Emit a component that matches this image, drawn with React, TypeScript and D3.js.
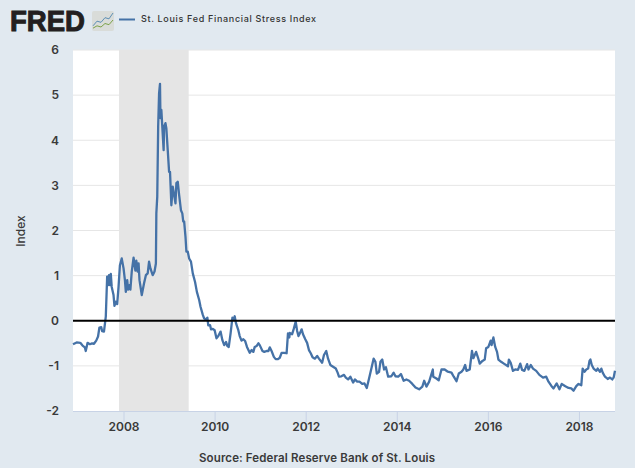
import React from "react";
import * as d3 from "d3";

const years = [2006.88,2006.96,2007.04,2007.09,2007.14,2007.16,2007.20,2007.25,2007.30,2007.34,2007.39,2007.43,2007.46,2007.50,2007.52,2007.56,2007.60,2007.63,2007.65,2007.67,2007.69,2007.71,2007.73,2007.77,2007.79,2007.82,2007.85,2007.88,2007.91,2007.95,2007.99,2008.02,2008.04,2008.07,2008.09,2008.12,2008.14,2008.17,2008.21,2008.25,2008.27,2008.30,2008.32,2008.34,2008.39,2008.44,2008.48,2008.52,2008.55,2008.58,2008.63,2008.67,2008.70,2008.71,2008.73,2008.75,2008.77,2008.79,2008.80,2008.82,2008.83,2008.87,2008.88,2008.91,2008.93,2008.96,2008.99,2009.01,2009.04,2009.07,2009.10,2009.13,2009.15,2009.18,2009.21,2009.25,2009.28,2009.30,2009.32,2009.35,2009.37,2009.40,2009.43,2009.47,2009.51,2009.56,2009.60,2009.65,2009.68,2009.73,2009.76,2009.80,2009.83,2009.85,2009.89,2009.91,2009.95,2009.99,2010.03,2010.07,2010.12,2010.16,2010.20,2010.24,2010.27,2010.30,2010.34,2010.38,2010.41,2010.43,2010.46,2010.51,2010.54,2010.58,2010.62,2010.66,2010.70,2010.76,2010.80,2010.84,2010.87,2010.91,2010.95,2010.98,2011.04,2011.08,2011.13,2011.17,2011.20,2011.24,2011.29,2011.33,2011.38,2011.42,2011.46,2011.51,2011.57,2011.60,2011.63,2011.64,2011.69,2011.73,2011.77,2011.80,2011.83,2011.86,2011.90,2011.93,2011.98,2012.02,2012.06,2012.10,2012.14,2012.19,2012.24,2012.28,2012.35,2012.39,2012.44,2012.48,2012.53,2012.59,2012.65,2012.69,2012.72,2012.77,2012.83,2012.87,2012.92,2012.97,2013.03,2013.07,2013.12,2013.17,2013.23,2013.28,2013.33,2013.38,2013.44,2013.48,2013.52,2013.55,2013.60,2013.63,2013.67,2013.71,2013.75,2013.80,2013.87,2013.92,2013.96,2014.02,2014.08,2014.14,2014.20,2014.26,2014.33,2014.40,2014.48,2014.55,2014.59,2014.64,2014.70,2014.78,2014.79,2014.86,2014.91,2014.97,2015.04,2015.11,2015.19,2015.24,2015.30,2015.35,2015.41,2015.45,2015.49,2015.52,2015.59,2015.64,2015.67,2015.73,2015.77,2015.81,2015.87,2015.92,2015.95,2016.00,2016.05,2016.07,2016.11,2016.15,2016.19,2016.22,2016.28,2016.34,2016.43,2016.45,2016.49,2016.54,2016.59,2016.65,2016.70,2016.74,2016.79,2016.85,2016.88,2016.93,2016.98,2017.05,2017.12,2017.20,2017.27,2017.32,2017.38,2017.43,2017.50,2017.56,2017.61,2017.69,2017.76,2017.82,2017.87,2017.93,2017.98,2018.04,2018.07,2018.11,2018.15,2018.19,2018.22,2018.24,2018.27,2018.31,2018.37,2018.40,2018.45,2018.48,2018.51,2018.56,2018.62,2018.67,2018.72,2018.75,2018.78];

const stress = [-0.52,-0.48,-0.49,-0.55,-0.59,-0.67,-0.49,-0.52,-0.50,-0.51,-0.44,-0.35,-0.15,-0.14,-0.23,-0.24,0.09,0.98,0.79,1.01,0.79,1.04,0.75,0.57,0.33,0.42,0.37,0.75,1.23,1.38,1.16,0.90,0.64,0.90,0.69,0.79,0.69,1.09,1.40,1.11,1.33,1.09,1.27,0.90,0.57,0.83,1.01,1.05,1.31,1.16,1.01,1.09,1.27,2.38,2.75,4.30,5.04,5.25,4.49,4.67,4.49,3.78,4.30,4.38,4.26,3.78,3.30,3.30,2.56,2.97,2.79,2.60,3.05,3.08,2.79,2.45,2.38,2.20,2.20,1.86,1.53,1.53,1.38,1.31,1.05,0.86,0.64,0.46,0.31,0.13,0.05,0.03,0.07,-0.10,-0.10,-0.19,-0.18,-0.21,-0.39,-0.34,-0.24,-0.43,-0.54,-0.47,-0.56,-0.58,-0.28,0.07,0.03,0.10,-0.06,-0.21,-0.34,-0.44,-0.41,-0.45,-0.58,-0.71,-0.65,-0.69,-0.58,-0.56,-0.50,-0.54,-0.67,-0.69,-0.67,-0.67,-0.59,-0.67,-0.80,-0.85,-0.85,-0.82,-0.71,-0.71,-0.72,-0.28,-0.37,-0.27,-0.30,-0.17,-0.02,-0.22,-0.34,-0.28,-0.19,-0.30,-0.41,-0.49,-0.65,-0.72,-0.81,-0.84,-0.78,-0.84,-0.93,-0.76,-0.67,-0.84,-0.98,-1.02,-1.06,-1.15,-1.24,-1.23,-1.20,-1.26,-1.30,-1.24,-1.37,-1.30,-1.35,-1.35,-1.40,-1.39,-1.49,-1.28,-1.02,-0.84,-0.91,-1.17,-1.13,-0.91,-0.86,-1.08,-1.03,-1.24,-1.23,-1.15,-1.23,-1.24,-1.18,-1.33,-1.30,-1.33,-1.40,-1.48,-1.52,-1.46,-1.33,-1.46,-1.35,-1.08,-1.24,-1.28,-1.32,-1.08,-1.08,-1.13,-1.15,-1.24,-1.34,-1.17,-1.13,-1.08,-0.98,-1.11,-1.08,-0.67,-0.83,-0.69,-0.81,-0.95,-0.89,-0.86,-0.61,-0.58,-0.44,-0.54,-0.37,-0.58,-0.69,-0.86,-0.91,-0.95,-1.01,-0.86,-0.93,-1.11,-1.08,-1.09,-0.95,-1.09,-1.11,-0.96,-1.08,-0.98,-1.06,-1.11,-1.20,-1.26,-1.24,-1.35,-1.44,-1.50,-1.39,-1.52,-1.40,-1.45,-1.49,-1.50,-1.55,-1.45,-1.40,-1.43,-1.06,-1.13,-1.08,-1.06,-0.89,-0.86,-0.98,-1.06,-1.11,-1.06,-1.13,-1.06,-1.15,-1.24,-1.29,-1.26,-1.30,-1.26,-1.11];

const yTicks = [-2,-1,0,1,2,3,4,5,6];
const xTicks = [2008,2010,2012,2014,2016,2018];
const recession = [2007.89,2009.42];
const xDomain = [2006.88,2018.78];
const yDomain = [-2,6];
const seriesName = "St. Louis Fed Financial Stress Index";
const sourceText = "Source: Federal Reserve Bank of St. Louis";
const logoBlue = [1,5,4,8,7,12];
const logoGreen = [-1,1,0,3,2,6];

const font = "Inter, 'Open Sans', 'Liberation Sans', sans-serif";

export default function App() {
  const x = d3.scaleLinear().domain(xDomain).range([73, 615]);
  const y = d3.scaleLinear().domain(yDomain).range([411, 50]);
  const line = d3.line<number>().x((_, i) => x(years[i])).y((d) => y(d));
  const lx = d3.scaleLinear().domain([0, 5]).range([93, 113]);
  const ly = d3.scaleLinear().domain([0, 12]).range([27, 13]);
  const mini = d3.line<number>().x((_, i) => lx(i)).y((d) => ly(d));
  return (
    <svg width={635} height={468} style={{ position: "absolute", left: 0, top: 0, display: "block" }} fontFamily={font}>
      <rect width={635} height={468} fill="#e1e9f0" />
      <rect x={73} y={50} width={542} height={361} fill="#ffffff" />
      {yTicks.filter((t) => t !== 0 && t !== -2).map((t) => (
        <line key={t} x1={73} x2={615} y1={y(t)} y2={y(t)} stroke="#e6e6e6" strokeWidth={1} />
      ))}
      <rect x={x(recession[0])} y={50} width={x(recession[1]) - x(recession[0])} height={361} fill="#e5e5e5" />
      <line x1={73} x2={615} y1={411.5} y2={411.5} stroke="#c8d3e6" strokeWidth={1} />
      {xTicks.map((t) => (
        <g key={t}>
          <line x1={x(t)} x2={x(t)} y1={411} y2={422} stroke="#c8d3e6" strokeWidth={1} />
          <text x={x(t)} y={431} textAnchor="middle" fontSize={12} fontWeight={600} fill="#3a3a3a">{t}</text>
        </g>
      ))}
      {yTicks.map((t) => (
        <text key={t} x={59} y={y(t)} dy="0.36em" textAnchor="end" fontSize={12} fontWeight={600} fill="#3a3a3a">{t}</text>
      ))}
      <path d={line(stress) ?? ""} fill="none" stroke="#4572a7" strokeWidth={2.3} strokeLinejoin="round" />
      <line x1={73} x2={615} y1={y(0)} y2={y(0)} stroke="#000000" strokeWidth={2.2} />
      <text transform="translate(25,231) rotate(-90)" textAnchor="middle" fontSize={12} fontWeight={500} fill="#3a3a3a">Index</text>
      <text x={317} y={462} textAnchor="middle" fontSize={11.5} fontWeight={600} fill="#3a3a3a" textLength={236}>{sourceText}</text>
      <text x={10} y={31} fontFamily="'Liberation Sans', sans-serif" fontWeight={700} fontSize={29} fill="#231f20" stroke="#231f20" strokeWidth={1} textLength={75} lengthAdjust="spacingAndGlyphs">FRED</text>
      <rect x={92} y={11} width={22} height={20} rx={2} fill="#d9dcd9" />
      <path d={mini(logoBlue) ?? ""} fill="none" stroke="#5d8fb5" strokeWidth={1} />
      <path d={mini(logoGreen) ?? ""} fill="none" stroke="#7ca24a" strokeWidth={1} />
      <line x1={119} x2={135} y1={19.5} y2={19.5} stroke="#4572a7" strokeWidth={2} />
      <text x={141} y={22} fontSize={9} fontWeight={500} fill="#333333" textLength={175}>{seriesName}</text>
    </svg>
  );
}
